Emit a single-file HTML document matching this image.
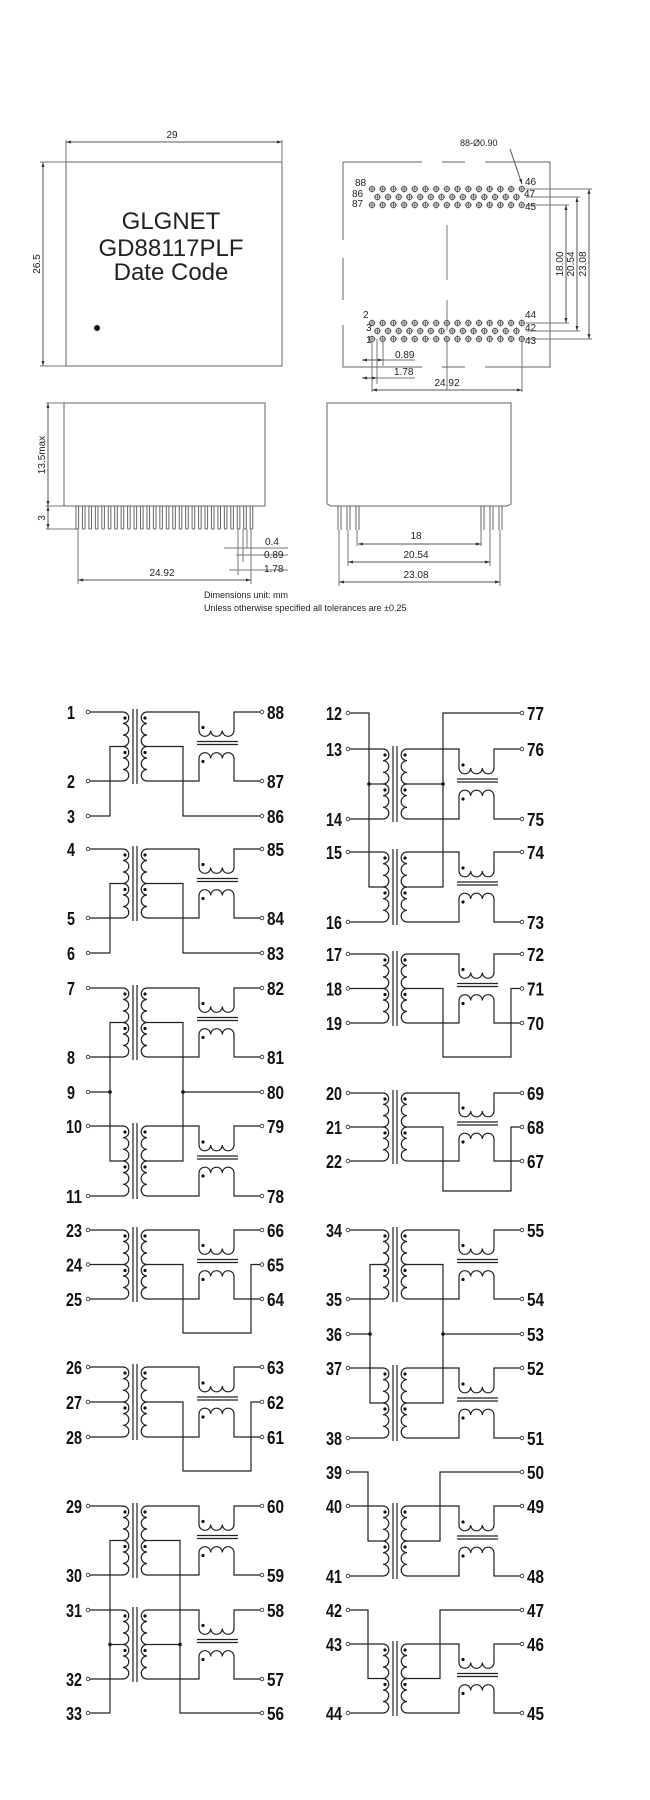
<!DOCTYPE html>
<html><head><meta charset="utf-8">
<style>
html,body{margin:0;padding:0;background:#fff;}
svg{display:block;}
.t{font-family:"Liberation Sans",sans-serif;fill:#222;}
.p{font-family:"Liberation Sans Narrow","Liberation Sans",sans-serif;font-weight:bold;font-size:18px;fill:#111;}
</style></head>
<body>
<svg id="s" width="650" height="1800" viewBox="0 0 650 1800" xmlns="http://www.w3.org/2000/svg">
<defs>
<marker id="a" viewBox="0 0 10 10" refX="10" refY="5" markerWidth="7" markerHeight="5" orient="auto-start-reverse" markerUnits="userSpaceOnUse"><path d="M0,2L10,5L0,8z" fill="#333"/></marker>
</defs>
<g id="topG" stroke="#777" stroke-width="1" fill="none"></g>
<g id="schG" stroke="#222" stroke-width="1.2" fill="none"></g>
<g id="txtG"></g>
</svg>
<script>
(function(){
var NS="http://www.w3.org/2000/svg";
var topG=document.getElementById('topG'),schG=document.getElementById('schG'),txtG=document.getElementById('txtG');
function el(par,tag,at,text){var e=document.createElementNS(NS,tag);for(var k in at)e.setAttribute(k,at[k]);if(text!==undefined)e.textContent=text;par.appendChild(e);return e;}
function P(par,d,extra){var a={d:d};if(extra)for(var k in extra)a[k]=extra[k];return el(par,'path',a);}
function T(x,y,s,size,cls,anchor,rot,tl){var a={x:x,y:y,'class':cls||'t','font-size':size||10};if(anchor)a['text-anchor']=anchor;if(rot)a.transform='rotate(-90 '+x+' '+y+')';if(tl){a.textLength=tl;a.lengthAdjust='spacingAndGlyphs';}return el(txtG,'text',a,s);}
function dim(x1,y1,x2,y2){P(topG,'M'+x1+','+y1+'L'+x2+','+y2,{'marker-start':'url(#a)','marker-end':'url(#a)',stroke:'#555'});}

P(topG,'M66,162H282V366H66Z',{stroke:'#666'});
dim(66,142,282,142); P(topG,'M66,140V162M282,140V162');
T(172,138,'29',10,'t','middle');
dim(43,162,43,366); P(topG,'M40,162H66M40,366H66');
T(40,264,'26.5',10,'t','middle',1);
T(171,229,'GLGNET',24,'t','middle');
T(171,256,'GD88117PLF',24,'t','middle');
T(171,280,'Date Code',24,'t','middle');
el(txtG,'circle',{cx:97,cy:328,r:3,fill:'#111'});

P(topG,'M343,162H422M442,162H465M485,162H550V367H485M465,367H442M422,367H343V325M343,300V258M343,240V162',{stroke:'#666'});
P(topG,'M447,225V280M447,300V330M447,340V390',{stroke:'#777'});
var rows=[[189,0,15],[197,5.35,14],[205,0,15],[323,0,15],[331,5.35,14],[339,0,15]];
rows.forEach(function(r){for(var i=0;i<r[2];i++){var x=372+r[1]+i*10.7;el(topG,'circle',{cx:x,cy:r[0],r:2.6,stroke:'#555'});P(topG,'M'+(x-3.5)+','+r[0]+'H'+(x+3.5)+'M'+x+','+(r[0]-3.5)+'V'+(r[0]+3.5),{stroke:'#555','stroke-width':0.8});}});
T(355,186,'88',10);T(352,197,'86',10);T(352,207,'87',10);
T(525,185,'46',10);T(524,197,'47',10);T(525,210,'45',10);
T(363,318,'2',10);T(366,331,'3',10);T(366,343,'1',10);
T(525,318,'44',10);T(525,331,'42',10);T(525,344,'43',10);
T(460,146,'88-Ø0.90',9);
P(topG,'M510,149L522,184',{'marker-end':'url(#a)',stroke:'#555'});
P(topG,'M526,189H592M526,197H580M526,205H569M526,323H569M526,331H580M526,339H592');
dim(566,205,566,323);dim(577,197,577,331);dim(589,189,589,339);
T(563,264,'18.00',10,'t','middle',1);T(574,264,'20.54',10,'t','middle',1);T(586,264,'23.08',10,'t','middle',1);
P(topG,'M372,339V392M383,339V366M377,339V384M522,339V392');
dim(362,360,383,360);T(395,358,'0.89',10);P(topG,'M383,360H415');
dim(362,378,377,378);T(394,375,'1.78',10);P(topG,'M377,378H415');
dim(372,390,522,390);T(447,386,'24.92',10,'t','middle');

P(topG,'M64,403H265V506H64Z',{stroke:'#666'});
for(var i=0;i<28;i++){var x=76+i*6.45;P(topG,'M'+x+',506V529M'+(x+2.6)+',506V529M'+x+',529H'+(x+2.6),{stroke:'#666'});}
dim(48,403,48,506);P(topG,'M46,403H64M46,506H64M46,529H76');
dim(48,506,48,529);
T(45,455,'13.5max',10,'t','middle',1);T(45,518,'3',10,'t','middle',1);
P(topG,'M78,529V584M251,529V584M238,529V575M243,529V562M247,529V548');
dim(78,580,251,580);T(162,576,'24.92',10,'t','middle');
P(topG,'M236,555H288M229,570H288M224,548H288');
T(265,545,'0.4',10);T(264,558,'0.89',10);T(264,572,'1.78',10);

P(topG,'M327,403H511V504L507,506H331L327,504Z',{stroke:'#666'});
[338,347,356,481,490,499].forEach(function(x){P(topG,'M'+x+',506V530M'+(x+3)+',506V530',{stroke:'#666'});});
P(topG,'M339,530V586M348,530V566M357,530V546M481,530V546M490,530V566M500,530V586');
dim(358,544,481,544);T(416,539,'18',10,'t','middle');
dim(348,562,490,562);T(416,558,'20.54',10,'t','middle');
dim(339,582,500,582);T(416,578,'23.08',10,'t','middle');
T(204,598,'Dimensions unit: mm',9);
T(204,611,'Unless otherwise specified all tolerances are ±0.25',9);

function arcs(x,y0,y1,sweep,n){var h=(y1-y0)/n,r=h/2,d='M'+x+','+y0;for(var i=0;i<n;i++)d+='A'+r+','+r+' 0 0 '+sweep+' '+x+','+(y0+h*(i+1));return d;}
function harcs(x0,x1,y,sweep,n){var w=(x1-x0)/n,r=w/2,d='M'+x0+','+y;for(var i=0;i<n;i++)d+='A'+r+','+r+' 0 0 '+sweep+' '+(x0+w*(i+1))+','+y;return d;}
function dot(x,y,r){el(schG,'circle',{cx:x,cy:y,r:r||1.8,fill:'#111',stroke:'none'});}
function pinL(o,y,l){el(schG,'circle',{cx:88+o,cy:y,r:1.8,fill:'#fff','stroke-width':0.8});T((l.length>1?66:67)+o,y+7,l,18,'p',null,0,l.length>1?16:8);}
function pinR(o,y,l){el(schG,'circle',{cx:262+o,cy:y,r:1.8,fill:'#fff','stroke-width':0.8});T(267+o,y+7,l,18,'p',null,0,17);}
function L(d){P(schG,d);}
function xf(o,yT,yB,pl){
  var yM=(yT+yB)/2;
  var a=123+o,b=147+o,c1=199+o,c2=234+o;
  L(arcs(a,yT,yM,1,3));L(arcs(a,yM,yB,1,3));
  L(arcs(b,yT,yM,0,3));L(arcs(b,yM,yB,0,3));
  L('M'+(133+o)+','+(yT-3)+'V'+(yB+3)+'M'+(137+o)+','+(yT-3)+'V'+(yB+3));
  dot(a+2,yT+6,1.6);dot(a+2,yM+6,1.6);dot(b-2,yT+6,1.6);dot(b-2,yM+6,1.6);
  if(pl){L('M'+(90+o)+','+yT+'H'+a);L('M'+(90+o)+','+yB+'H'+a);}
  L('M'+b+','+yT+'H'+c1+'V'+(yM-16));L(harcs(c1,c2,yM-16,0,3));L('M'+c2+','+(yM-16)+'V'+yT+'H'+(260+o));
  L('M'+b+','+yB+'H'+c1+'V'+(yM+12));L(harcs(c1,c2,yM+12,1,3));L('M'+c2+','+(yM+12)+'V'+yB+'H'+(260+o));
  L('M'+(197+o)+','+(yM-5)+'H'+(238+o)+'M'+(197+o)+','+(yM-2)+'H'+(238+o));
  dot(c1+4,yM-19,1.6);dot(c1+4,yM+15,1.6);
  return yM;
}
function typeA(o,yT,yB,yC,ls,rs){var yM=xf(o,yT,yB,1);
  L('M'+(123+o)+','+yM+'H'+(110+o)+'V'+yC+'H'+(90+o));
  L('M'+(147+o)+','+yM+'H'+(183+o)+'V'+yC+'H'+(260+o));
  pinL(o,yT,ls[0]);pinL(o,yB,ls[1]);pinL(o,yC,ls[2]);pinR(o,yT,rs[0]);pinR(o,yB,rs[1]);pinR(o,yC,rs[2]);}
function typeB(o,yT,yB,yLoop,ls,rs){var yM=xf(o,yT,yB,1);
  L('M'+(90+o)+','+yM+'H'+(123+o));
  L('M'+(147+o)+','+yM+'H'+(183+o)+'V'+yLoop+'H'+(251+o)+'V'+yM+'H'+(260+o));
  pinL(o,yT,ls[0]);pinL(o,yM,ls[1]);pinL(o,yB,ls[2]);pinR(o,yT,rs[0]);pinR(o,yM,rs[1]);pinR(o,yB,rs[2]);}
function typeC(o,y1,y2,yC,y3,y4,ls,rs){var m1=xf(o,y1,y2,1),m2=xf(o,y3,y4,1);
  L('M'+(123+o)+','+m1+'H'+(110+o)+'V'+m2+'H'+(123+o));L('M'+(90+o)+','+yC+'H'+(110+o));dot(110+o,yC);
  L('M'+(147+o)+','+m1+'H'+(183+o)+'V'+m2+'H'+(147+o));L('M'+(183+o)+','+yC+'H'+(260+o));dot(183+o,yC);
  [y1,y2,yC,y3,y4].forEach(function(y,i){pinL(o,y,ls[i]);pinR(o,y,rs[i]);});}

typeA(0,712,781,816,['1','2','3'],['88','87','86']);
typeA(0,849,918,953,['4','5','6'],['85','84','83']);
typeC(0,988,1057,1092,1126,1196,['7','8','9','10','11'],['82','81','80','79','78']);
typeB(0,1230,1299,1333,['23','24','25'],['66','65','64']);
typeB(0,1367,1437,1471,['26','27','28'],['63','62','61']);
(function(){var m1=xf(0,1506,1575,1),m2=xf(0,1610,1679,1),yC=1713;
  L('M123,'+m1+'H110V'+yC+'H90');L('M110,'+m2+'H123');dot(110,m2);
  L('M147,'+m1+'H180V'+yC+'H260');L('M147,'+m2+'H180');dot(180,m2);
  [1506,1575,1610,1679,1713].forEach(function(y,i){pinL(0,y,['29','30','31','32','33'][i]);pinR(0,y,['60','59','58','57','56'][i]);});})();

(function(){var o=260,m1=xf(o,749,819,1),m2=xf(o,852,922,1);
  L('M350,713H369V'+m2+'H383');L('M369,'+m1+'H383');dot(369,m1);
  L('M520,713H443V'+m2+'H407');L('M407,'+m1+'H443');dot(443,m1);
  [713,749,819,852,922].forEach(function(y,i){pinL(o,y,['12','13','14','15','16'][i]);pinR(o,y,['77','76','75','74','73'][i]);});})();
typeB(260,954,1023,1057,['17','18','19'],['72','71','70']);
typeB(260,1093,1161,1191,['20','21','22'],['69','68','67']);
typeC(260,1230,1299,1334,1368,1438,['34','35','36','37','38'],['55','54','53','52','51']);
function typeF(yP,yT,yB,ls,rs){var o=260,m=xf(o,yT,yB,1);
  L('M350,'+yP+'H368V'+m+'H383');L('M520,'+yP+'H440V'+m+'H407');
  [yP,yT,yB].forEach(function(y,i){pinL(o,y,ls[i]);pinR(o,y,rs[i]);});}
typeF(1472,1506,1576,['39','40','41'],['50','49','48']);
typeF(1610,1644,1713,['42','43','44'],['47','46','45']);
})();
</script>
</body></html>
